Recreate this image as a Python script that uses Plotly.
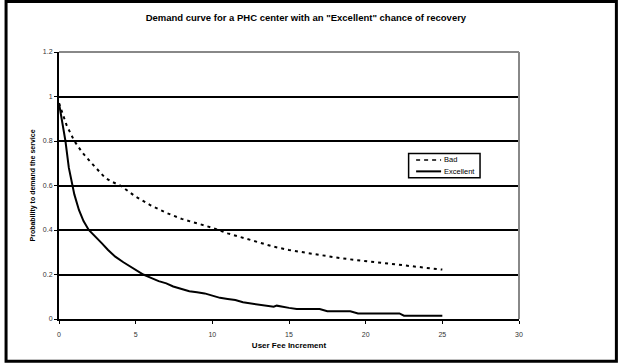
import plotly.graph_objects as go

# ---- data ----
x_bad = [0, 0.5, 1, 1.5, 2, 2.5, 3, 3.5, 4, 4.5, 5, 6, 7, 8, 9, 10,
         11, 12, 13, 14, 15, 16, 17, 18, 19, 20, 21, 22, 23, 24, 25]
y_bad = [0.97, 0.87, 0.80, 0.75, 0.71, 0.67, 0.635, 0.615, 0.60, 0.575, 0.55,
         0.51, 0.477, 0.45, 0.43, 0.41, 0.385, 0.365, 0.345, 0.325, 0.31,
         0.298, 0.287, 0.277, 0.268, 0.26, 0.252, 0.245, 0.237, 0.23, 0.222]

x_exc = [0, 0.2, 0.42, 0.64, 0.85, 1.0, 1.3, 1.6, 1.94, 2.4, 2.8, 3.2, 3.67, 4.2,
         4.8, 5.5, 6.0, 6.5, 7.0, 7.45, 8.0, 8.5, 9.0, 9.5, 10, 10.5, 11, 11.5,
         12, 12.5, 13, 13.5, 14, 14.2, 14.5, 15, 15.5, 16, 17, 17.5, 18, 19,
         19.5, 20, 21, 22.2, 22.5, 23, 24, 25]
y_exc = [0.97, 0.89, 0.80, 0.68, 0.60, 0.56, 0.49, 0.44, 0.40, 0.37, 0.34, 0.31,
         0.28, 0.255, 0.23, 0.20, 0.185, 0.17, 0.16, 0.146, 0.135, 0.125, 0.12,
         0.115, 0.105, 0.095, 0.09, 0.085, 0.075, 0.07, 0.065, 0.06, 0.055, 0.06,
         0.055, 0.05, 0.045, 0.045, 0.045, 0.035, 0.035, 0.035, 0.025, 0.025,
         0.025, 0.025, 0.015, 0.015, 0.015, 0.015]

series_names = ["Bad", "Excellent"]
x_ticks = [0, 5, 10, 15, 20, 25, 30]
y_ticks = [0, 0.2, 0.4, 0.6, 0.8, 1, 1.2]
y_ticktext = ["0", "0.2", "0.4", "0.6", "0.8", "1", "1.2"]

title = 'Demand curve for a PHC center with an "Excellent" chance of recovery'
x_title = "User Fee Increment"
y_title = "Probability to demand the service"

FONT = "Liberation Sans, Arial, sans-serif"
BAD_DASH = "3px,4px"

fig = go.Figure()
fig.add_trace(go.Scatter(x=x_bad, y=y_bad, mode="lines", name=series_names[0],
                         line=dict(color="black", width=2, dash=BAD_DASH)))
fig.add_trace(go.Scatter(x=x_exc, y=y_exc, mode="lines", name=series_names[1],
                         line=dict(color="black", width=2)))

L, R, T, B = 58.5, 99, 52, 43.7
W, H = 618, 363
pw, ph = W - L - R, H - T - B


def px_x(px):
    return (px - L) / pw


def px_y(py):
    return (H - B - py) / ph


# compact legend box, drawn like the original (Excel-style)
leg_x0, leg_x1, leg_y0, leg_y1 = 408.5, 480, 153.5, 178
leg_rows = [160, 171.5]
leg_shapes = [
    dict(type="rect", xref="paper", yref="paper",
         x0=px_x(leg_x0), x1=px_x(leg_x1), y0=px_y(leg_y1), y1=px_y(leg_y0),
         line=dict(color="black", width=1.5), fillcolor="white", layer="above"),
    dict(type="line", xref="paper", yref="paper",
         x0=px_x(416), x1=px_x(441), y0=px_y(leg_rows[0]), y1=px_y(leg_rows[0]),
         line=dict(color="black", width=1.5, dash="4px,4px"), layer="above"),
    dict(type="line", xref="paper", yref="paper",
         x0=px_x(416), x1=px_x(441), y0=px_y(leg_rows[1]), y1=px_y(leg_rows[1]),
         line=dict(color="black", width=2), layer="above"),
]
leg_annots = [
    dict(text=name, xref="paper", yref="paper", x=px_x(442), y=px_y(row),
         xanchor="left", yanchor="middle", showarrow=False,
         font=dict(size=7.5, color="black", family=FONT))
    for name, row in zip(series_names, leg_rows)
]

fig.update_layout(
    width=W, height=H,
    margin=dict(l=L, r=R, t=T, b=B, pad=0),
    paper_bgcolor="white", plot_bgcolor="white",
    font=dict(family=FONT, size=7, color="#222"),
    title=dict(text="<b>" + title + "</b>", x=0.495, xref="container",
               xanchor="center", y=1 - 18 / H, yanchor="middle",
               font=dict(size=9.5, color="black")),
    showlegend=False,
    xaxis=dict(range=[0, 30], tickvals=x_ticks, ticktext=[str(v) for v in x_ticks],
               showgrid=False, zeroline=False,
               showline=True, linecolor="black", linewidth=2,
               ticks="outside", ticklen=3, tickwidth=1, tickcolor="black",
               ticklabelstandoff=5,
               tickfont=dict(size=7, color="#333"),
               title=dict(text="<b>" + x_title + "</b>", standoff=5,
                          font=dict(size=8, color="black"))),
    yaxis=dict(range=[0, 1.2], tickvals=y_ticks, ticktext=y_ticktext,
               showgrid=True, gridcolor="black", gridwidth=1.5, zeroline=False,
               showline=True, linecolor="black", linewidth=2,
               ticks="outside", ticklen=3, tickwidth=1, tickcolor="black",
               tickfont=dict(size=7, color="#333"),
               title=dict(text="<b>" + y_title + "</b>", standoff=6,
                          font=dict(size=7, color="black"))),
    shapes=[
        # grey top & right plot border
        dict(type="line", xref="paper", yref="paper", x0=0, x1=1, y0=1, y1=1,
             line=dict(color="#888", width=2), layer="above"),
        dict(type="line", xref="paper", yref="paper", x0=1, x1=1, y0=0, y1=1,
             line=dict(color="#888", width=2), layer="above"),
        # outer chart frame
        dict(type="rect", xref="paper", yref="paper",
             x0=px_x(5.5), x1=px_x(616.5), y0=px_y(361.5), y1=px_y(1.5),
             line=dict(color="black", width=3), layer="above"),
    ] + leg_shapes,
    annotations=leg_annots,
)

fig.write_html("out.html")
